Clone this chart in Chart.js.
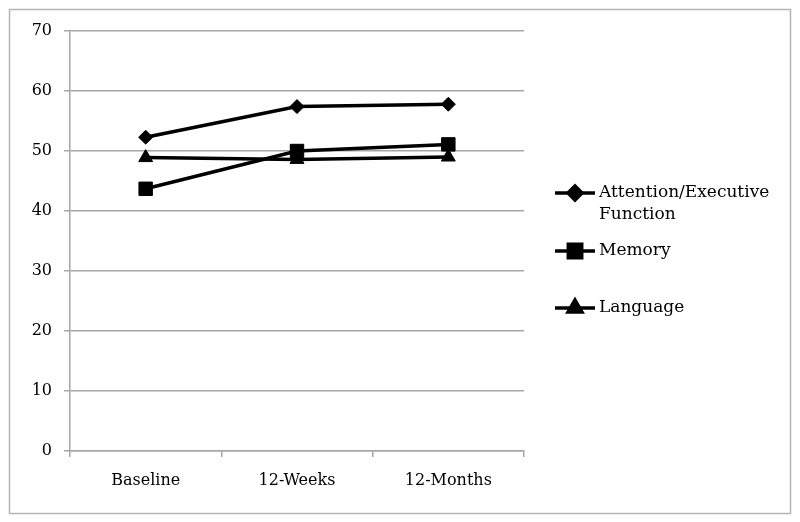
<!DOCTYPE html>
<html>
<head>
<meta charset="utf-8">
<script src="https://cdn.jsdelivr.net/npm/chart.js@4"></script>
<style>
  html, body { margin: 0; padding: 0; background: #fff; }
  #wrap { width: 800px; height: 522px; position: relative; }
</style>
</head>
<body>
<div id="wrap"><canvas id="scoresChart"></canvas></div>
<script>
const categories = ['Baseline', '12-Weeks', '12-Months'];
const attention = [52.3, 57.4, 57.8];
const memory = [43.7, 50.0, 51.1];
const language = [48.9, 48.6, 49.0];
const yTicks = [0, 10, 20, 30, 40, 50, 60, 70];

const FONT = '"DejaVu Serif", serif';
const GRID = '#a6a6a6';

// outer frame like the Excel chart border
const framePlugin = {
  id: 'frame',
  beforeDraw(chart) {
    const ctx = chart.ctx;
    ctx.save();
    ctx.fillStyle = '#fff';
    ctx.fillRect(0, 0, chart.width, chart.height);
    ctx.strokeStyle = '#b5b5b5';
    ctx.lineWidth = 1.5;
    ctx.strokeRect(9.5, 9.5, 781, 504);
    ctx.restore();
  }
};

// legend on the right, with wrapped labels
const legendPlugin = {
  id: 'sideLegend',
  afterDraw(chart) {
    const ctx = chart.ctx;
    const rows = [
      { lines: ['Attention/Executive', 'Function'], y: 193 },
      { lines: ['Memory'], y: 251 },
      { lines: ['Language'], y: 308 }
    ];
    ctx.save();
    chart.data.datasets.forEach((ds, i) => {
      const r = rows[i];
      ctx.strokeStyle = '#000';
      ctx.lineWidth = 3.5;
      ctx.beginPath();
      ctx.moveTo(555, r.y);
      ctx.lineTo(595, r.y);
      ctx.stroke();
      ctx.fillStyle = '#000';
      Chart.helpers.drawPoint(ctx, {
        pointStyle: ds.pointStyle,
        radius: ds.pointRadius,
        rotation: 0,
        borderWidth: 1
      }, 575, r.y);
      ctx.font = '17px ' + FONT;
      ctx.textBaseline = 'middle';
      ctx.textAlign = 'left';
      r.lines.forEach((t, j) => ctx.fillText(t, 599, r.y + j * 22));
    });
    ctx.restore();
  }
};

function series(label, data, style, radius) {
  return {
    label,
    data,
    borderColor: '#000',
    backgroundColor: '#000',
    borderWidth: 3.5,
    pointStyle: style,
    pointRadius: radius,
    pointHoverRadius: radius,
    pointBackgroundColor: '#000',
    pointBorderColor: '#000',
    pointBorderWidth: 1,
    tension: 0
  };
}

new Chart(document.getElementById('scoresChart'), {
  type: 'line',
  data: {
    labels: categories,
    datasets: [
      series('Attention/Executive Function', attention, 'rectRot', 7),
      series('Memory', memory, 'rect', 9.5),
      series('Language', language, 'triangle', 8)
    ]
  },
  options: {
    responsive: true,
    maintainAspectRatio: false,
    animation: false,
    events: [],
    layout: { padding: { left: 0, top: 31, right: 276, bottom: 0 } },
    plugins: {
      legend: { display: false },
      tooltip: { enabled: false }
    },
    scales: {
      x: {
        offset: true,
        grid: { display: true, drawOnChartArea: false, drawTicks: true, tickLength: 6, offset: true, color: GRID, lineWidth: 1.5 },
        border: { color: GRID, width: 1.5 },
        ticks: { color: '#000', font: { family: FONT, size: 16 }, padding: 14, maxRotation: 0 },
        afterFit: s => { s.height = 71; }
      },
      y: {
        min: 0,
        max: 70,
        afterBuildTicks: s => { s.ticks = yTicks.map(v => ({ value: v })); },
        grid: { color: GRID, lineWidth: 1.5, tickLength: 6 },
        border: { color: GRID, width: 1.5 },
        ticks: { color: '#000', font: { family: FONT, size: 16 }, padding: 12 },
        afterFit: s => { s.width = 70; }
      }
    }
  },
  plugins: [framePlugin, legendPlugin]
});
</script>
</body>
</html>
